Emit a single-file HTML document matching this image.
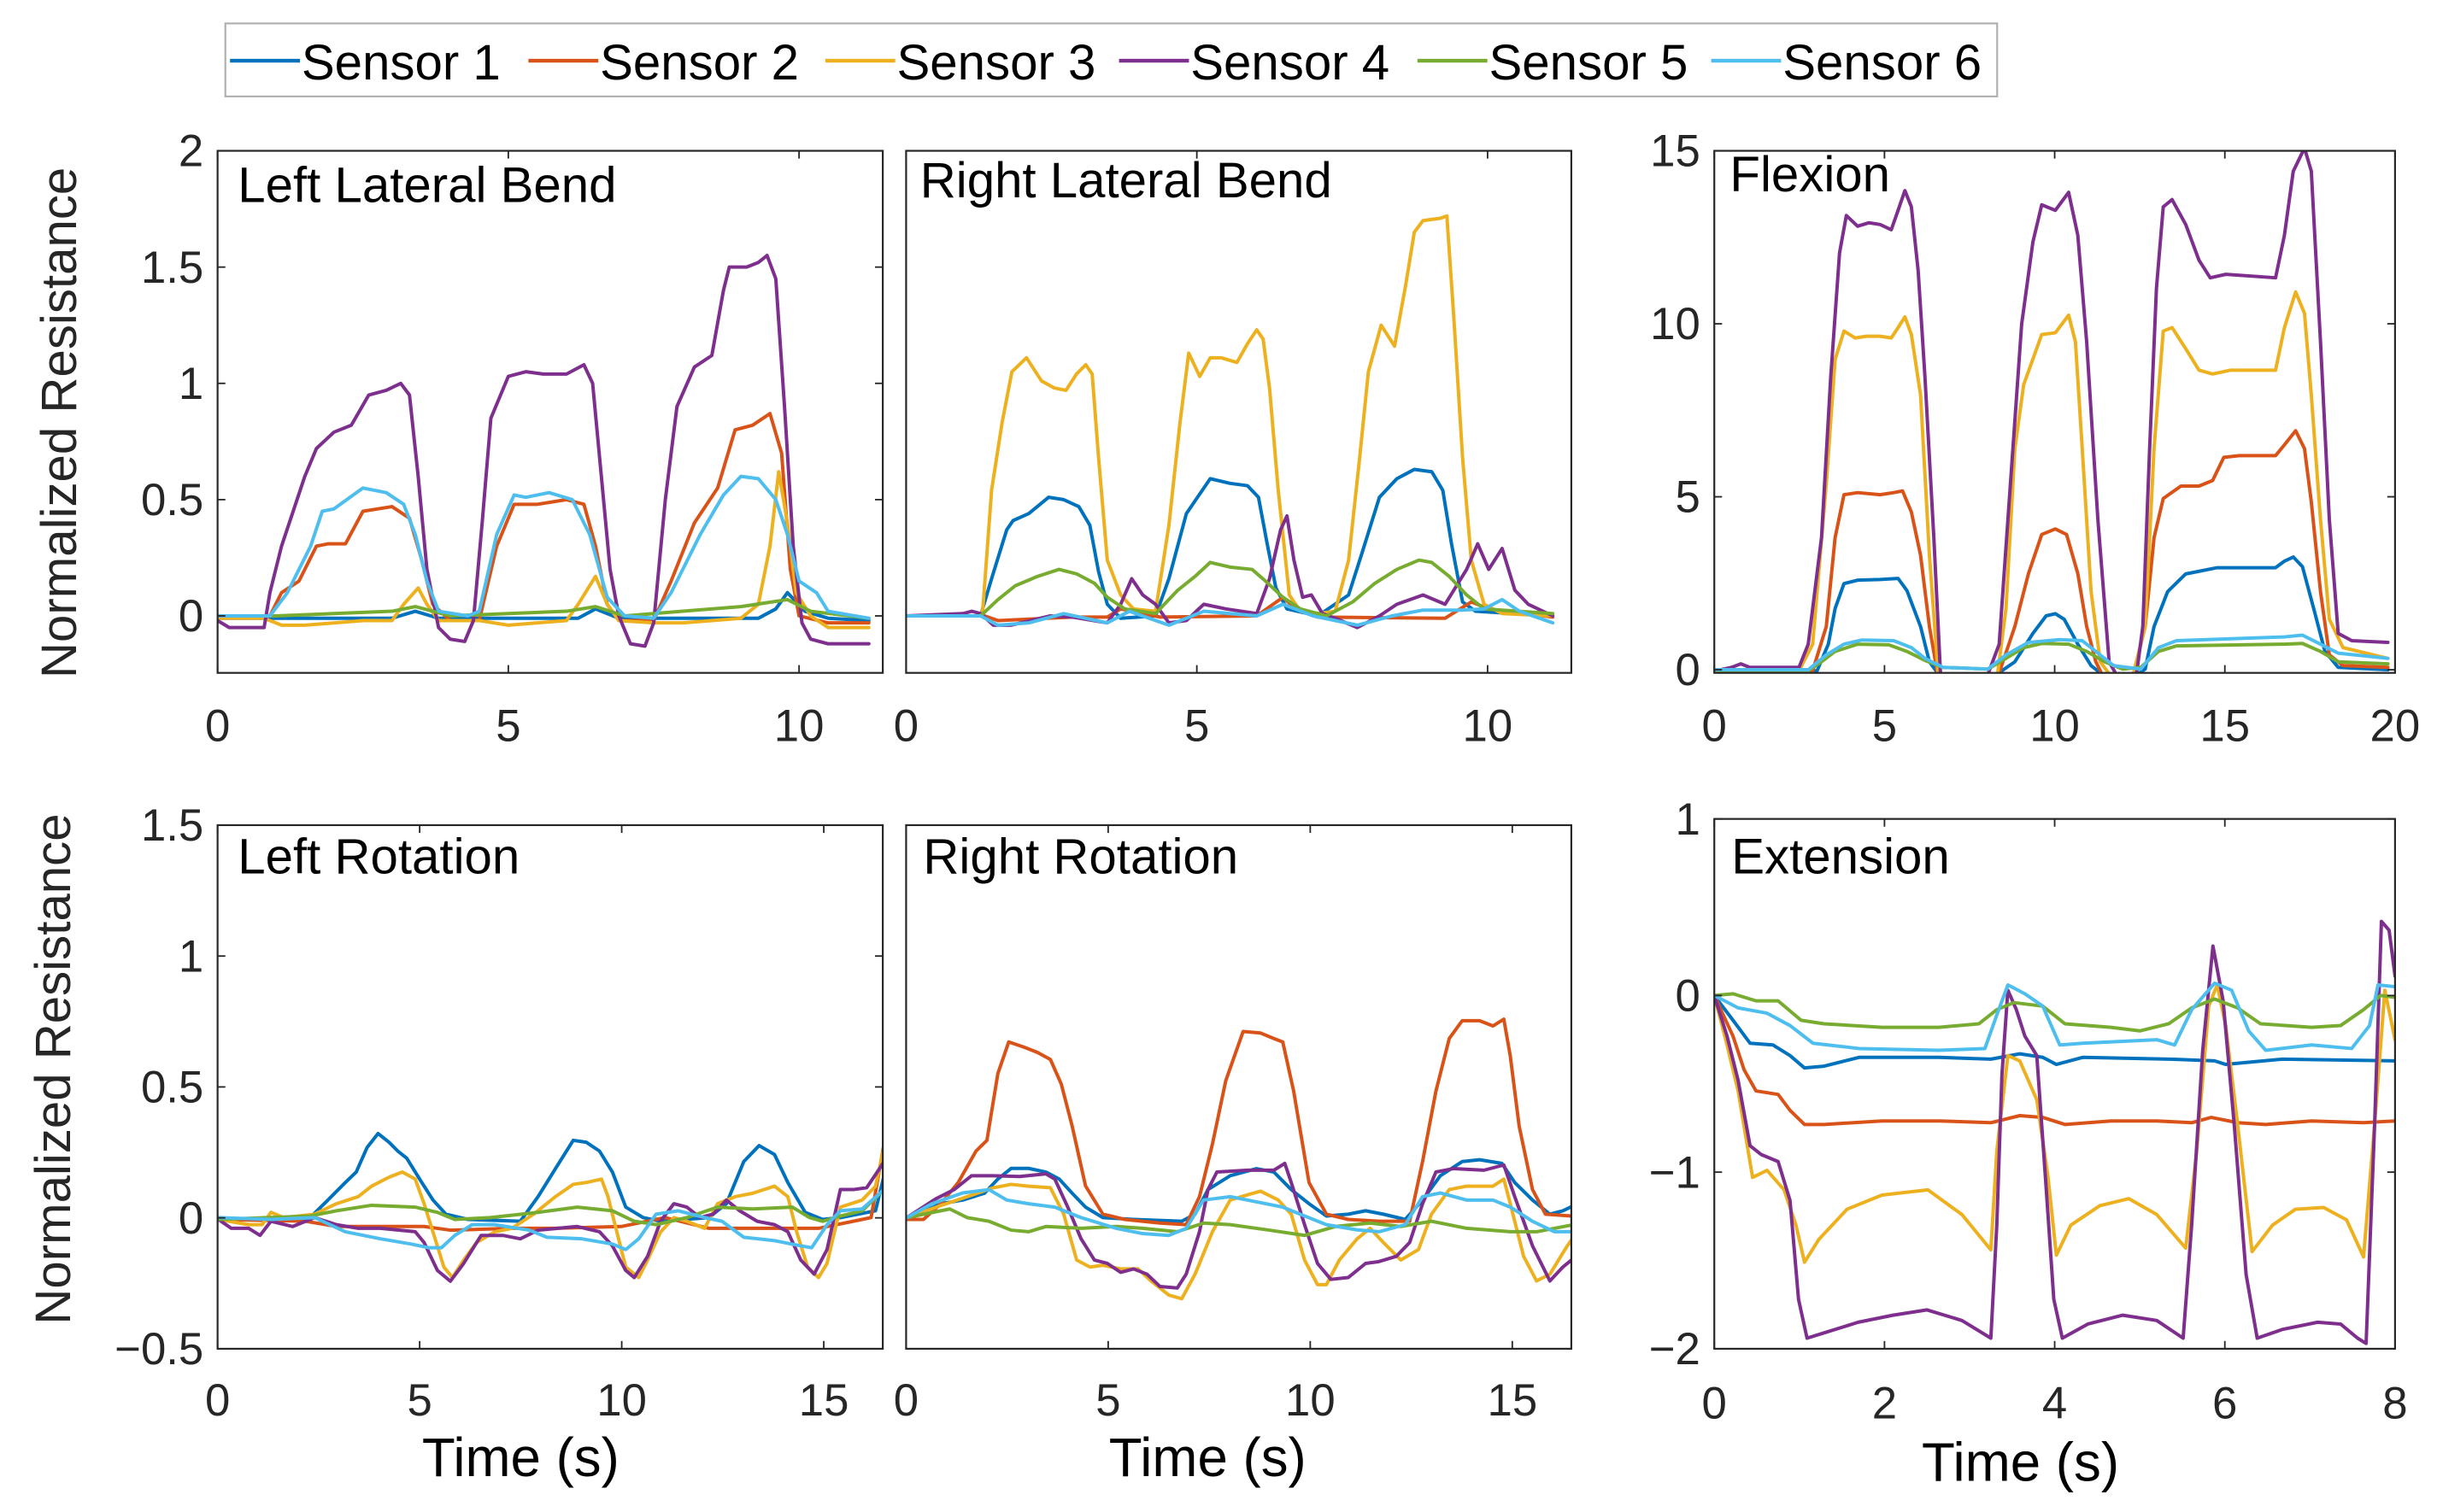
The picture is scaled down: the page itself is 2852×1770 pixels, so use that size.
<!DOCTYPE html>
<html><head><meta charset="utf-8"><style>
html,body{margin:0;padding:0;background:#fff;}
svg{display:block;font-family:"Liberation Sans",Arial,sans-serif;}
</style></head><body>
<svg id="fig" width="2852" height="1770" viewBox="0 0 1568 973" xmlns="http://www.w3.org/2000/svg">
<g>
<rect x="145" y="15" width="1140" height="47" fill="#fff" stroke="#b0b0b0" stroke-width="1.2"/>
<g id="legendEntries"></g>
</g>
<text transform="translate(49,272) rotate(-90)" text-anchor="middle" font-size="32" fill="#262626">Normalized Resistance</text>
<text transform="translate(45,688) rotate(-90)" text-anchor="middle" font-size="32" fill="#262626">Normalized Resistance</text>
<text x="335" y="950" text-anchor="middle" font-size="35" fill="#000">Time (s)</text>
<text x="777" y="950" text-anchor="middle" font-size="35" fill="#000">Time (s)</text>
<text x="1300" y="953" text-anchor="middle" font-size="35" fill="#000">Time (s)</text>
<g id="panels"></g>
</svg>
<script>
const sensorNames = ["Sensor 1","Sensor 2","Sensor 3","Sensor 4","Sensor 5","Sensor 6"];
const sensorColors = ["#0072BD","#D95319","#EDB120","#7E2F8E","#77AC30","#4DBEEE"];

// Tick labels
const llbXTicks = [0,5,10];
const llbYTicks = [0,0.5,1,1.5,2];
const flxXTicks = [0,5,10,15,20];
const flxYTicks = [0,5,10,15];
const rotXTicks = [0,5,10,15];
const rotYTicks = [-0.5,0,0.5,1,1.5];
const extXTicks = [0,2,4,6,8];
const extYTicks = [-2,-1,0,1];

// ---- Left Lateral Bend ----
const llbT1 = [0,1,2,3,3.4,3.8,4.5,5.5,6.2,6.5,6.9,7.5,8.5,9.3,9.6,9.8,10.1,10.5,11.2];
const llbV1 = [-0.01,-0.01,-0.01,-0.01,0.02,-0.01,-0.01,-0.01,-0.01,0.03,-0.01,-0.01,-0.01,-0.01,0.03,0.1,0.02,-0.01,-0.02];
const llbT2 = [0,0.9,1.1,1.4,1.7,1.9,2.2,2.5,3.0,3.3,3.5,3.7,4.0,4.5,4.8,5.1,5.5,6.0,6.3,6.5,6.7,6.9,7.5,7.8,8.2,8.6,8.9,9.2,9.5,9.7,9.85,10.0,10.5,11.2];
const llbV2 = [0,0,0.1,0.15,0.3,0.31,0.31,0.45,0.47,0.42,0.25,0.05,-0.02,-0.02,0.3,0.48,0.48,0.5,0.48,0.3,0.05,-0.02,-0.02,0.15,0.4,0.55,0.8,0.82,0.87,0.7,0.2,0,-0.03,-0.03];
const llbT3 = [0,0.8,1.1,1.5,2.5,3.0,3.2,3.45,3.6,3.8,4.5,5.0,5.5,6.0,6.2,6.5,6.7,6.9,7.5,8.0,8.5,9.0,9.3,9.5,9.65,9.8,9.95,10.2,10.5,11.2];
const llbV3 = [-0.01,-0.01,-0.04,-0.04,-0.02,-0.02,0.05,0.12,0.05,-0.02,-0.02,-0.04,-0.03,-0.02,0.05,0.17,0.05,-0.02,-0.03,-0.03,-0.02,-0.01,0.05,0.3,0.62,0.4,0.1,0,-0.05,-0.05];
const llbT4 = [0,0.2,0.8,0.9,1.1,1.5,1.7,2.0,2.3,2.6,2.9,3.15,3.3,3.45,3.6,3.8,4.0,4.25,4.4,4.55,4.7,5.0,5.3,5.6,6.0,6.3,6.45,6.6,6.75,6.9,7.1,7.35,7.5,7.7,7.9,8.2,8.5,8.7,8.8,9.1,9.3,9.45,9.6,9.75,9.9,10.05,10.2,10.5,11.2];
const llbV4 = [-0.02,-0.05,-0.05,0.1,0.3,0.6,0.72,0.79,0.82,0.95,0.97,1.0,0.95,0.6,0.2,-0.05,-0.1,-0.11,-0.02,0.4,0.85,1.03,1.05,1.04,1.04,1.08,1.0,0.6,0.2,0,-0.12,-0.13,-0.03,0.5,0.9,1.07,1.12,1.4,1.5,1.5,1.52,1.55,1.45,0.9,0.3,-0.03,-0.1,-0.12,-0.12];
const llbT5 = [0,1,2,3,3.4,4,5,6,6.5,7,8,9,9.8,10.2,11.2];
const llbV5 = [0,0,0.01,0.02,0.04,0,0.01,0.02,0.04,0,0.02,0.04,0.07,0.02,-0.01];
const llbT6 = [0,0.9,1.2,1.6,1.8,2.0,2.5,2.9,3.2,3.4,3.6,3.8,4.3,4.5,4.8,5.1,5.3,5.7,6.1,6.4,6.7,7.0,7.5,7.8,8.3,8.7,9.0,9.3,9.6,9.8,10.0,10.3,10.5,11.2];
const llbV6 = [0,0,0.1,0.3,0.45,0.46,0.55,0.53,0.48,0.35,0.15,0.02,0,0.02,0.35,0.52,0.51,0.53,0.5,0.35,0.08,0,-0.01,0.1,0.35,0.52,0.6,0.59,0.5,0.35,0.15,0.1,0.02,-0.01];

// ---- Right Lateral Bend ----
const rlbT1 = [0,1.28,1.47,1.73,1.84,2.11,2.45,2.71,2.97,3.16,3.31,3.46,3.69,4.29,4.52,4.82,5.23,5.57,5.87,6.06,6.21,6.36,6.55,7.08,7.61,7.84,8.14,8.44,8.74,9.04,9.23,9.38,9.57,9.79,11.12];
const rlbV1 = [0,0,0.16,0.37,0.41,0.44,0.51,0.5,0.47,0.39,0.19,0.05,-0.01,0,0.16,0.44,0.59,0.57,0.56,0.51,0.31,0.12,0.03,0,0.09,0.27,0.51,0.59,0.63,0.62,0.54,0.31,0.06,0.02,0];
const rlbT2 = [0,1.35,1.58,2.86,3.46,3.69,4.37,6.03,6.48,6.7,7.08,9.27,9.72,10.02,11.12];
const rlbV2 = [0,0,-0.02,-0.005,-0.005,0.03,-0.005,0,0.08,0.03,-0.005,-0.01,0.06,0.03,-0.005];
const rlbT3 = [0,1.28,1.32,1.47,1.65,1.82,2.07,2.33,2.55,2.75,2.93,3.09,3.2,3.31,3.46,3.69,3.91,4.29,4.52,4.71,4.86,5.05,5.23,5.42,5.69,5.87,6.03,6.14,6.25,6.4,6.59,6.78,7.08,7.38,7.61,7.8,7.95,8.17,8.4,8.59,8.74,8.89,9.19,9.3,9.42,9.57,9.72,9.94,10.25,11.12];
const rlbV3 = [0,0,0.03,0.54,0.83,1.05,1.11,1.01,0.98,0.97,1.04,1.08,1.04,0.68,0.24,0.09,0.03,0.02,0.39,0.83,1.13,1.03,1.11,1.11,1.09,1.17,1.23,1.19,0.98,0.54,0.09,0.02,0.01,0.02,0.24,0.68,1.05,1.25,1.16,1.42,1.65,1.7,1.71,1.72,1.28,0.68,0.24,0.05,0.01,0];
const rlbT4 = [0,0.98,1.13,1.28,1.5,1.8,2.48,2.86,3.46,3.69,3.88,4.07,4.29,4.52,4.82,5.12,5.5,6.03,6.25,6.44,6.55,6.67,6.82,6.97,7.16,7.38,7.76,8.14,8.44,8.89,9.27,9.64,9.83,10.02,10.25,10.47,10.7,11.12];
const rlbV4 = [0,0.01,0.02,0.01,-0.04,-0.04,0,-0.005,-0.03,0.05,0.16,0.09,0.05,-0.03,-0.02,0.05,0.03,0.01,0.16,0.37,0.43,0.24,0.08,0.09,0.01,-0.01,-0.05,0,0.05,0.09,0.05,0.2,0.31,0.2,0.29,0.11,0.05,0];
const rlbT5 = [0,1.28,1.58,1.88,2.26,2.63,2.94,3.24,3.46,3.76,4.29,4.67,4.97,5.23,5.57,5.95,6.18,6.48,6.78,7.23,7.68,8.06,8.44,8.82,9.04,9.34,9.64,9.94,11.12];
const rlbV5 = [0,0,0.07,0.13,0.17,0.2,0.18,0.14,0.08,0.03,0.01,0.11,0.17,0.23,0.21,0.2,0.15,0.08,0.03,0,0.06,0.14,0.2,0.24,0.23,0.17,0.09,0.03,0.01];
const rlbT6 = [0,1.28,1.58,2.11,2.71,3.46,3.84,4.52,5.12,6.03,6.48,7.0,7.76,8.36,8.89,9.57,9.94,10.25,10.55,11.12];
const rlbV6 = [0,0,-0.04,-0.03,0.01,-0.03,0.02,-0.04,0.02,0,0.05,0,-0.04,0,0.025,0.025,0.03,0.07,0.02,-0.03];

// ---- Flexion ----
const flxT1 = [0.05,3.02,3.35,3.55,3.81,4.21,4.87,5.4,5.66,6.06,6.32,6.59,8.3,8.83,9.36,9.75,10.02,10.28,10.68,11.07,11.47,12.26,12.66,12.92,13.32,13.85,14.77,16.49,16.75,17.01,17.28,17.61,17.94,18.33,19.79];
const flxV1 = [-0.03,-0.03,0.74,1.77,2.49,2.59,2.61,2.64,2.29,1.25,0.23,-0.13,-0.13,0.23,1.05,1.56,1.62,1.46,0.74,0.12,-0.19,-0.24,0.02,1.25,2.26,2.77,2.95,2.95,3.14,3.26,2.98,1.77,0.53,0.07,0];
const flxT2 = [0.05,2.89,3.29,3.55,3.81,4.21,4.87,5.27,5.53,5.79,6.06,6.32,6.59,8.3,8.83,9.23,9.62,10.02,10.35,10.68,10.94,11.21,11.47,12.26,12.66,12.92,13.19,13.71,14.24,14.64,14.97,15.43,16.49,16.75,17.08,17.34,17.54,17.81,18.07,18.47,19.79];
const flxV2 = [-0.03,-0.03,1.25,3.82,5.06,5.12,5.06,5.12,5.17,4.56,3.31,1.25,-0.29,-0.29,1.25,2.78,3.91,4.07,3.91,2.78,1.25,0.23,-0.29,-0.34,1.25,3.82,4.95,5.31,5.31,5.47,6.14,6.19,6.19,6.5,6.91,6.39,4.85,2.26,0.43,0.12,0.07];
const flxT3 = [0.05,2.49,2.89,3.29,3.55,3.81,4.14,4.47,4.87,5.2,5.4,5.6,5.79,6.06,6.32,6.59,8.3,8.57,8.83,9.09,9.62,10.02,10.41,10.61,10.81,11.07,11.34,11.73,12.26,12.66,12.92,13.19,13.45,13.85,14.24,14.64,15.17,16.49,16.75,17.08,17.34,17.54,17.81,18.07,18.47,19.79];
const flxV3 = [-0.03,-0.03,0.74,5.37,8.97,9.79,9.59,9.64,9.64,9.59,9.89,10.2,9.69,7.94,3.31,-0.29,-0.29,1.77,6.39,8.24,9.69,9.74,10.25,9.48,6.39,2.26,0.23,-0.29,-0.34,1.25,6.39,9.79,9.89,9.28,8.66,8.55,8.66,8.66,9.89,10.92,10.3,7.94,4.34,1.46,0.64,0.33];
const flxT4 = [0.05,0.51,0.78,1.04,2.49,2.76,3.15,3.42,3.68,3.88,4.21,4.54,4.87,5.2,5.4,5.6,5.79,5.99,6.19,6.45,6.65,6.98,8.04,8.37,8.7,9.03,9.36,9.62,10.02,10.41,10.68,10.94,11.27,11.6,11.87,12.39,12.59,12.79,12.99,13.19,13.45,13.85,14.24,14.57,15.03,16.49,16.75,17.01,17.34,17.54,17.81,18.07,18.33,18.73,19.79];
const flxV4 = [-0.03,0.07,0.17,0.07,0.07,0.74,3.82,8.45,12.05,13.13,12.82,12.92,12.87,12.72,13.28,13.85,13.38,11.53,8.45,3.82,-0.19,-0.13,-0.13,0.74,5.37,9.99,12.36,13.44,13.28,13.8,12.56,9.48,4.34,0.23,-0.24,-0.24,1.25,6.39,11.02,13.38,13.59,12.87,11.84,11.33,11.43,11.33,12.56,14.41,15.08,14.41,9.48,4.34,1.05,0.84,0.79];
const flxT5 = [0.05,2.76,3.15,3.55,4.21,5.13,5.66,6.19,6.72,8.04,8.57,9.09,9.62,10.41,10.94,11.47,12.0,12.53,13.05,13.58,16.75,17.28,17.81,18.33,19.79];
const flxV5 = [-0.03,-0.03,0.23,0.53,0.74,0.72,0.53,0.27,0.07,0.02,0.33,0.64,0.76,0.74,0.53,0.23,0.02,0.07,0.53,0.69,0.74,0.76,0.53,0.23,0.17];
const flxT6 = [0.05,2.76,3.29,3.81,4.34,5.27,5.79,6.19,6.72,8.04,8.57,9.23,10.15,10.81,11.21,11.73,12.53,13.05,13.58,16.75,17.28,17.81,18.33,19.79];
const flxV6 = [0,0,0.43,0.74,0.86,0.84,0.64,0.33,0.07,0.02,0.43,0.79,0.87,0.84,0.53,0.12,0.02,0.64,0.84,0.95,1.0,0.74,0.48,0.33];

// ---- Left Rotation ----
const lrT1 = [0.02,2.29,2.73,3.16,3.43,3.7,3.97,4.24,4.46,4.68,5.0,5.33,5.65,6.19,7.49,7.93,8.36,8.8,9.12,9.45,9.77,10.1,10.53,10.96,12.16,12.59,13.02,13.4,13.78,14.11,14.54,14.97,15.41,16.28,16.49];
const lrV1 = [-0.006,0.001,0.068,0.135,0.175,0.269,0.322,0.289,0.255,0.228,0.148,0.068,0.014,-0.006,-0.013,0.081,0.188,0.296,0.289,0.255,0.175,0.041,0.001,-0.013,0.001,0.054,0.215,0.276,0.242,0.135,0.021,-0.006,0.001,0.027,0.161];
const lrT2 = [0.02,2.18,2.94,5.11,5.76,7.28,8.36,9.99,11.07,12.16,13.78,14.87,15.95,16.17,16.49];
const lrV2 = [-0.006,-0.013,-0.033,-0.033,-0.047,-0.04,-0.04,-0.033,0.001,-0.04,-0.04,-0.04,-0.006,0.001,0.283];
const lrT3 = [0.02,0.77,1.1,1.32,1.64,2.4,2.94,3.48,3.81,4.24,4.57,4.89,5.11,5.33,5.6,5.81,6.09,6.41,6.85,7.28,7.82,8.36,8.8,9.12,9.5,9.66,9.88,10.1,10.42,10.64,10.96,11.29,11.61,12.05,12.37,12.81,13.24,13.78,14.11,14.33,14.6,14.87,15.08,15.41,15.95,16.28,16.49];
const lrV3 = [-0.006,-0.026,-0.026,0.021,0.001,0.014,0.054,0.081,0.121,0.155,0.175,0.148,0.054,-0.054,-0.188,-0.228,-0.161,-0.094,-0.054,-0.04,0.014,0.081,0.128,0.135,0.148,0.081,-0.054,-0.188,-0.228,-0.161,-0.054,0.001,-0.013,-0.04,0.054,0.081,0.094,0.121,0.081,-0.054,-0.188,-0.228,-0.174,0.041,0.068,0.121,0.269];
const lrT4 = [0.02,0.34,0.77,1.05,1.32,1.86,2.4,2.94,3.48,4.03,4.89,5.11,5.44,5.76,6.09,6.52,7.06,7.49,7.93,8.9,9.45,9.77,10.1,10.31,10.64,10.96,11.29,11.61,11.94,12.26,12.59,12.92,13.35,13.78,14.11,14.43,14.76,15.08,15.41,15.73,16.06,16.38,16.49];
const lrV4 = [-0.006,-0.04,-0.04,-0.067,-0.013,-0.033,0.001,-0.026,-0.04,-0.04,-0.053,-0.094,-0.201,-0.242,-0.174,-0.067,-0.067,-0.08,-0.047,-0.033,-0.053,-0.107,-0.201,-0.228,-0.147,-0.013,0.054,0.041,0.001,0.014,0.068,0.027,-0.013,-0.026,-0.053,-0.161,-0.215,-0.121,0.108,0.108,0.115,0.188,0.215];
const lrT5 = [0.02,2.29,2.94,3.81,4.89,5.44,5.87,6.74,7.93,8.9,9.77,10.31,10.85,11.61,12.37,13.24,14.22,14.65,14.97,15.41,15.95,16.49];
const lrV5 = [-0.006,0.007,0.027,0.048,0.041,0.021,-0.006,0.001,0.021,0.041,0.027,-0.013,-0.026,0.001,0.041,0.034,0.041,0.001,-0.013,0.007,0.027,0.108];
const lrT6 = [0.02,1.32,2.4,3.16,4.03,4.79,5.22,5.54,5.87,6.3,6.85,7.71,8.15,9.01,9.77,10.1,10.42,10.85,11.4,12.05,12.48,13.02,13.78,14.43,14.7,15.08,15.41,15.95,16.49];
const lrV6 = [0.001,-0.006,0.001,-0.053,-0.08,-0.1,-0.114,-0.114,-0.067,-0.026,-0.026,-0.047,-0.074,-0.08,-0.1,-0.121,-0.08,0.014,0.027,0.001,-0.013,-0.074,-0.087,-0.107,-0.114,-0.026,0.027,0.034,0.108];

// ---- Right Rotation ----
const rrT1 = [0.02,0.86,1.4,1.94,2.27,2.6,3.03,3.46,3.79,4.11,4.44,4.87,5.63,6.82,7.15,7.47,8.02,8.67,9.1,9.53,9.97,10.4,10.94,11.37,11.81,12.35,12.78,13.22,13.76,14.19,14.74,15.06,15.5,15.93,16.25,16.52];
const rrV1 = [-0.006,0.054,0.068,0.094,0.148,0.189,0.189,0.175,0.148,0.094,0.041,0.001,-0.006,-0.013,0.014,0.108,0.161,0.188,0.175,0.108,0.054,0.007,0.014,0.027,0.014,-0.006,0.068,0.161,0.215,0.222,0.208,0.135,0.068,0.014,0.027,0.047];
const rrT2 = [0.02,0.43,0.86,1.29,1.73,2.0,2.27,2.54,2.92,3.25,3.57,3.84,4.11,4.44,4.87,5.41,6.28,6.93,7.26,7.58,7.91,8.34,8.77,9.1,9.32,9.59,9.97,10.4,10.94,11.7,12.46,12.78,13.11,13.44,13.76,14.19,14.52,14.79,14.95,15.17,15.5,15.82,16.47];
const rrV2 = [-0.006,-0.006,0.054,0.135,0.255,0.296,0.551,0.672,0.652,0.632,0.605,0.511,0.35,0.122,0.014,-0.006,-0.02,-0.026,0.081,0.282,0.524,0.712,0.706,0.685,0.672,0.484,0.135,0.014,-0.006,-0.013,-0.013,0.215,0.484,0.685,0.753,0.753,0.733,0.759,0.618,0.35,0.108,0.014,0.007];
const rrT3 = [0.02,0.86,1.51,2.16,2.6,3.03,3.57,3.9,4.22,4.55,4.87,5.31,5.74,6.06,6.5,6.82,7.15,7.58,8.02,8.45,8.77,9.21,9.53,9.86,10.18,10.4,10.72,11.16,11.48,11.81,12.24,12.68,13.0,13.44,13.87,14.52,14.79,14.95,15.28,15.6,15.93,16.36,16.52];
const rrV3 = [0.001,0.047,0.081,0.115,0.128,0.121,0.115,0.014,-0.161,-0.188,-0.181,-0.195,-0.195,-0.241,-0.295,-0.309,-0.215,-0.053,0.068,0.088,0.102,0.068,0.014,-0.161,-0.255,-0.255,-0.161,-0.08,-0.04,-0.094,-0.161,-0.121,0.014,0.108,0.121,0.121,0.148,0.054,-0.147,-0.241,-0.215,-0.107,-0.073];
const rrT4 = [0.02,0.75,1.19,1.62,2.16,2.81,3.46,3.68,4.0,4.33,4.66,4.98,5.31,5.63,5.96,6.28,6.71,6.93,7.26,7.47,7.69,8.45,9.1,9.37,9.53,9.86,10.18,10.51,10.94,11.37,11.7,12.13,12.46,12.78,13.11,13.54,14.3,14.79,15.06,15.5,15.93,16.25,16.52];
const rrV4 = [0.001,0.074,0.108,0.161,0.161,0.158,0.168,0.148,0.041,-0.08,-0.161,-0.174,-0.208,-0.195,-0.215,-0.262,-0.268,-0.215,-0.053,0.108,0.175,0.182,0.182,0.208,0.135,-0.026,-0.174,-0.235,-0.228,-0.174,-0.167,-0.147,-0.094,0.054,0.175,0.188,0.182,0.202,0.081,-0.107,-0.241,-0.188,-0.154];
const rrT5 = [0.02,1.08,1.51,2.05,2.6,3.03,3.46,4.33,5.2,5.85,6.71,7.36,8.02,8.99,9.86,10.62,11.48,12.24,13.0,13.87,14.95,15.6,16.52];
const rrV5 = [0.001,0.034,0.001,-0.013,-0.047,-0.053,-0.033,-0.04,-0.033,-0.04,-0.053,-0.02,-0.026,-0.047,-0.067,-0.033,-0.02,-0.033,-0.013,-0.04,-0.053,-0.053,-0.026];
const rrT6 = [0.02,0.64,1.4,2.05,2.49,3.03,3.68,4.33,5.2,5.85,6.5,6.93,7.36,8.02,8.67,9.32,9.75,10.4,11.16,11.7,12.35,12.78,13.22,13.87,14.52,14.95,15.5,16.04,16.52];
const rrV6 = [0.001,0.054,0.095,0.108,0.068,0.054,0.041,0.001,-0.04,-0.06,-0.067,-0.04,0.068,0.081,0.061,0.041,0.014,-0.026,-0.046,-0.053,-0.026,0.081,0.095,0.068,0.068,0.041,-0.013,-0.053,-0.053];

// ---- Extension ----
const extT1 = [0,0.22,0.42,0.69,0.89,1.06,1.29,1.7,2.64,3.25,3.59,3.86,4.02,4.33,5.34,5.88,6.01,6.68,8.0];
const extV1 = [0,-0.14,-0.27,-0.28,-0.34,-0.41,-0.4,-0.35,-0.35,-0.36,-0.33,-0.35,-0.39,-0.35,-0.36,-0.37,-0.39,-0.36,-0.37];
const extT2 = [0,0.22,0.35,0.49,0.75,0.89,1.06,1.29,1.97,2.65,3.25,3.59,3.86,4.12,4.66,5.2,5.61,5.84,6.15,6.48,7.02,7.63,8.0];
const extV2 = [0,-0.23,-0.42,-0.54,-0.56,-0.65,-0.73,-0.73,-0.71,-0.71,-0.72,-0.68,-0.69,-0.73,-0.71,-0.71,-0.72,-0.69,-0.72,-0.73,-0.71,-0.72,-0.71];
const extT3 = [0,0.15,0.28,0.45,0.62,0.82,0.96,1.06,1.23,1.56,1.97,2.51,2.91,3.25,3.32,3.45,3.59,3.79,3.92,4.02,4.19,4.53,4.87,5.2,5.54,5.67,5.81,5.91,6.01,6.15,6.32,6.56,6.83,7.16,7.43,7.63,7.76,7.88,8.0];
const extV3 = [0,-0.28,-0.54,-1.03,-0.99,-1.1,-1.3,-1.51,-1.38,-1.21,-1.13,-1.1,-1.24,-1.44,-0.88,-0.34,-0.37,-0.59,-1.02,-1.47,-1.3,-1.19,-1.15,-1.24,-1.43,-0.88,-0.06,0.06,-0.17,-0.73,-1.45,-1.3,-1.21,-1.2,-1.27,-1.48,-0.73,0.03,-0.25];
const extT4 = [0,0.15,0.28,0.42,0.55,0.75,0.89,0.99,1.09,1.29,1.69,2.1,2.5,2.91,3.25,3.32,3.38,3.45,3.55,3.65,3.79,3.89,3.99,4.09,4.39,4.8,5.2,5.51,5.61,5.74,5.86,5.98,6.11,6.25,6.38,6.68,7.09,7.36,7.56,7.66,7.76,7.84,7.93,8.0];
const extV4 = [0,-0.23,-0.48,-0.85,-0.9,-0.94,-1.16,-1.72,-1.94,-1.91,-1.85,-1.81,-1.78,-1.84,-1.94,-1.3,-0.45,0.03,-0.08,-0.23,-0.34,-1.02,-1.72,-1.94,-1.86,-1.81,-1.84,-1.94,-1.3,-0.31,0.28,-0.03,-0.73,-1.58,-1.94,-1.89,-1.85,-1.86,-1.94,-1.97,-0.73,0.42,0.37,0.11];
const extT5 = [0,0.22,0.49,0.75,1.02,1.29,1.97,2.64,3.11,3.32,3.52,3.86,4.12,4.66,5.0,5.34,5.61,5.88,6.15,6.42,7.02,7.36,7.63,7.83,8.0];
const extV5 = [0,0.01,-0.03,-0.03,-0.14,-0.16,-0.18,-0.18,-0.16,-0.08,-0.04,-0.06,-0.16,-0.18,-0.2,-0.16,-0.07,-0.02,-0.07,-0.16,-0.18,-0.17,-0.08,0,-0.01];
const extT6 = [0,0.28,0.62,0.89,1.16,1.7,2.64,3.18,3.32,3.45,3.65,3.86,4.06,4.33,5.2,5.41,5.61,5.88,6.08,6.28,6.48,7.02,7.49,7.7,7.8,8.0];
const extV6 = [0,-0.07,-0.1,-0.17,-0.27,-0.3,-0.31,-0.3,-0.11,0.06,0.01,-0.06,-0.28,-0.27,-0.25,-0.28,-0.08,0.07,0.03,-0.2,-0.31,-0.28,-0.3,-0.17,0.06,0.05];

const NS = "http://www.w3.org/2000/svg";
function mk(tag, attrs, parent){
  const e = document.createElementNS(NS, tag);
  for (const k in attrs) e.setAttribute(k, attrs[k]);
  if (parent) parent.appendChild(e);
  return e;
}
function fmt(v){ return (v<0 ? "\u2212" + String(-v) : String(v)); }

// legend
const leg = document.getElementById("legendEntries");
const legX = [148,340,531,720,912,1101];
sensorNames.forEach((nm,i)=>{
  const g = mk("g",{},leg);
  
  
  const ln = mk("line",{x1:legX[i],y1:39,x2:legX[i]+45,y2:39,stroke:sensorColors[i],"stroke-width":2.4},g);
  
  
  const tx = mk("text",{x:legX[i]+46,y:51,"font-size":32,fill:"#000"},g);
  
  
  tx.textContent = nm;
});

const panels = [
 {id:"left-lateral-bend", title:"Left Lateral Bend", tx:153, ty:130, x0:140,x1:568,y0:97,y1:433, xmin:0,xmax:11.44, ymin:-0.245,ymax:2, xt:llbXTicks, yt:llbYTicks, xly:477,
  T:[llbT1,llbT2,llbT3,llbT4,llbT5,llbT6], V:[llbV1,llbV2,llbV3,llbV4,llbV5,llbV6]},
 {id:"right-lateral-bend", title:"Right Lateral Bend", tx:592, ty:127, x0:583,x1:1011,y0:97,y1:433, xmin:0,xmax:11.44, ymin:-0.245,ymax:2, xt:llbXTicks, yt:[], xly:477,
  T:[rlbT1,rlbT2,rlbT3,rlbT4,rlbT5,rlbT6], V:[rlbV1,rlbV2,rlbV3,rlbV4,rlbV5,rlbV6]},
 {id:"flexion", title:"Flexion", tx:1113, ty:123, x0:1103,x1:1541,y0:97,y1:433, xmin:0,xmax:20, ymin:-0.09,ymax:15, xt:flxXTicks, yt:flxYTicks, xly:477,
  T:[flxT1,flxT2,flxT3,flxT4,flxT5,flxT6], V:[flxV1,flxV2,flxV3,flxV4,flxV5,flxV6]},
 {id:"left-rotation", title:"Left Rotation", tx:153, ty:562, x0:140,x1:568,y0:531,y1:868, xmin:0,xmax:16.46, ymin:-0.5,ymax:1.5, xt:rotXTicks, yt:rotYTicks, xly:911,
  T:[lrT1,lrT2,lrT3,lrT4,lrT5,lrT6], V:[lrV1,lrV2,lrV3,lrV4,lrV5,lrV6]},
 {id:"right-rotation", title:"Right Rotation", tx:594, ty:562, x0:583,x1:1011,y0:531,y1:868, xmin:0,xmax:16.46, ymin:-0.5,ymax:1.5, xt:rotXTicks, yt:[], xly:911,
  T:[rrT1,rrT2,rrT3,rrT4,rrT5,rrT6], V:[rrV1,rrV2,rrV3,rrV4,rrV5,rrV6]},
 {id:"extension", title:"Extension", tx:1114, ty:562, x0:1103,x1:1541,y0:527,y1:868, xmin:0,xmax:8, ymin:-2,ymax:1, xt:extXTicks, yt:extYTicks, xly:913,
  T:[extT1,extT2,extT3,extT4,extT5,extT6], V:[extV1,extV2,extV3,extV4,extV5,extV6]}
];

const root = document.getElementById("panels");
const defs = mk("defs",{},root);
panels.forEach((p,pi)=>{
  const sx = v => p.x0 + (v - p.xmin)/(p.xmax - p.xmin)*(p.x1 - p.x0);
  const sy = v => p.y1 - (v - p.ymin)/(p.ymax - p.ymin)*(p.y1 - p.y0);
  const g = mk("g",{},root);
  
  
  const cp = mk("clipPath",{id:"clip"+pi},defs);
  mk("rect",{x:p.x0,y:p.y0,width:p.x1-p.x0,height:p.y1-p.y0},cp);
  const bg = mk("rect",{x:p.x0,y:p.y0,width:p.x1-p.x0,height:p.y1-p.y0,fill:"#fff"},g);
  
  
  const sg = mk("g",{"clip-path":"url(#clip"+pi+")"},g);
  p.T.forEach((ts,si)=>{
    const vs = p.V[si];
    const d = ts.map((t,k)=>(k?"L":"M")+sx(t).toFixed(2)+","+sy(vs[k]).toFixed(2)).join("");
    const path = mk("path",{d:d,fill:"none",stroke:sensorColors[si],"stroke-width":2.2,"stroke-linejoin":"round","stroke-linecap":"round"},sg);
    
    
  });
  const box = mk("rect",{x:p.x0,y:p.y0,width:p.x1-p.x0,height:p.y1-p.y0,fill:"none",stroke:"#262626","stroke-width":1.2},g);
  
  
  p.xt.forEach(v=>{
    const x = sx(v);
    mk("line",{x1:x,y1:p.y1,x2:x,y2:p.y1-5,stroke:"#262626","stroke-width":1},g);
    mk("line",{x1:x,y1:p.y0,x2:x,y2:p.y0+5,stroke:"#262626","stroke-width":1},g);
    const t = mk("text",{x:x,y:p.xly,"text-anchor":"middle","font-size":29,fill:"#262626"},g);
    
    
    t.textContent = fmt(v);
  });
  p.yt.forEach(v=>{
    const y = sy(v);
    mk("line",{x1:p.x0,y1:y,x2:p.x0+5,y2:y,stroke:"#262626","stroke-width":1},g);
    mk("line",{x1:p.x1,y1:y,x2:p.x1-5,y2:y,stroke:"#262626","stroke-width":1},g);
    const t = mk("text",{x:p.x0-9,y:y+10,"text-anchor":"end","font-size":29,fill:"#262626"},g);
    
    
    t.textContent = fmt(v);
  });
  const tt = mk("text",{x:p.tx,y:p.ty,"font-size":32,fill:"#000"},g);
  
  
  tt.textContent = p.title;
});
</script>
</body></html>
